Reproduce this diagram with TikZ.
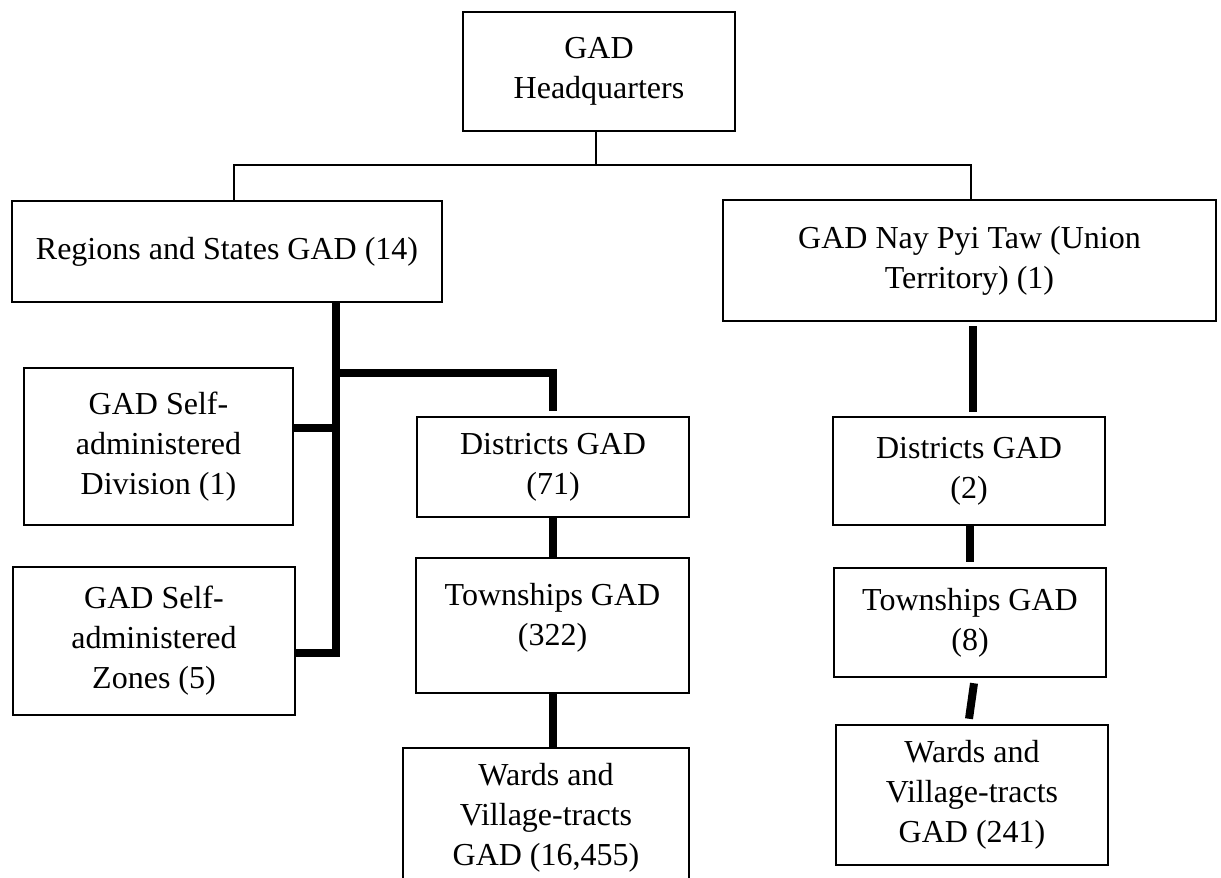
\documentclass[tikz,border=0pt]{standalone}
\usepackage{fontspec}
\setmainfont{Liberation Serif}
\usetikzlibrary{calc}
\begin{document}
\begin{tikzpicture}[x=1pt,y=-1pt,
  box/.style={draw, line width=2.5pt, align=center, inner sep=0pt,
    font=\fontsize{32}{40}\selectfont},
  thinc/.style={line width=2pt},
  thickc/.style={line width=8pt}]
\useasboundingbox (0,0) rectangle (1221,878);
\clip (0,0) rectangle (1221,878);
% boxes
\node[box, minimum width=272pt, minimum height=119pt] (hq) at (599,71.5) {GAD\\Headquarters};
\node[box, minimum width=430pt, minimum height=101pt] (reg) at (227,251.5) {Regions and States GAD (14)};
\node[box, minimum width=493pt, minimum height=121pt] (npt) at (969.5,260.5) {GAD Nay Pyi Taw (Union\\Territory) (1)};
\node[box, minimum width=269pt, minimum height=157pt] (div) at (158.5,446.5) {GAD Self-\\administered\\Division (1)};
\node[box, minimum width=282pt, minimum height=148pt] (zones) at (154,641) {GAD Self-\\administered\\Zones (5)};
\node[box, minimum width=272pt, minimum height=100pt] (d71) at (553,467) {Districts GAD\\(71)};
\node[box, minimum width=273pt, minimum height=135pt, text depth=23pt] (t322) at (552.5,625.5) {Townships GAD\\(322)};
\node[box, minimum width=286pt, minimum height=140pt] (w1) at (546,818) {Wards and\\Village-tracts\\GAD (16,455)};
\node[box, minimum width=272pt, minimum height=108pt] (d2) at (969,471) {Districts GAD\\(2)};
\node[box, minimum width=272pt, minimum height=109pt] (t8) at (970,622.5) {Townships GAD\\(8)};
\node[box, minimum width=272pt, minimum height=140pt] (w241) at (972,795) {Wards and\\Village-tracts\\GAD (241)};
% thin connectors
\coordinate (hl) at (234,165);
\coordinate (hr) at (971,165);
\coordinate (hm) at (596,165);
\draw[thinc] (hq.south -| hm) -- (hm);
\draw[thinc] (reg.north -| hl) -- (hl) -- (hr) -- (npt.north -| hr);
% thick connectors, left
\coordinate (tv) at (336,373);
\coordinate (tz) at (336,653);
\coordinate (dv) at (336,428);
\coordinate (dc) at (553,373);
\draw[thickc] (reg.south -| tv) -- (tz) -- (zones.east |- tz);
\draw[thickc] (div.east |- dv) -- (dv);
\draw[thickc] (tv) -- (dc) -- ($(d71.north -| dc)+(0,-5)$);
\draw[thickc] (d71.south -| dc) -- (t322.north -| dc);
\draw[thickc] (t322.south -| dc) -- (w1.north -| dc);
% thick connectors, right
\coordinate (rx) at (973,0);
\coordinate (ry) at (970,0);
\draw[thickc] ($(npt.south -| rx)+(0,4)$) -- ($(d2.north -| rx)+(0,-4)$);
\draw[thickc] (d2.south -| ry) -- ($(t8.north -| ry)+(0,-5)$);
\draw[thickc] ($(t8.south)+(4,5)$) -- ($(w241.north)+(-3,-5)$);
\end{tikzpicture}
\end{document}
